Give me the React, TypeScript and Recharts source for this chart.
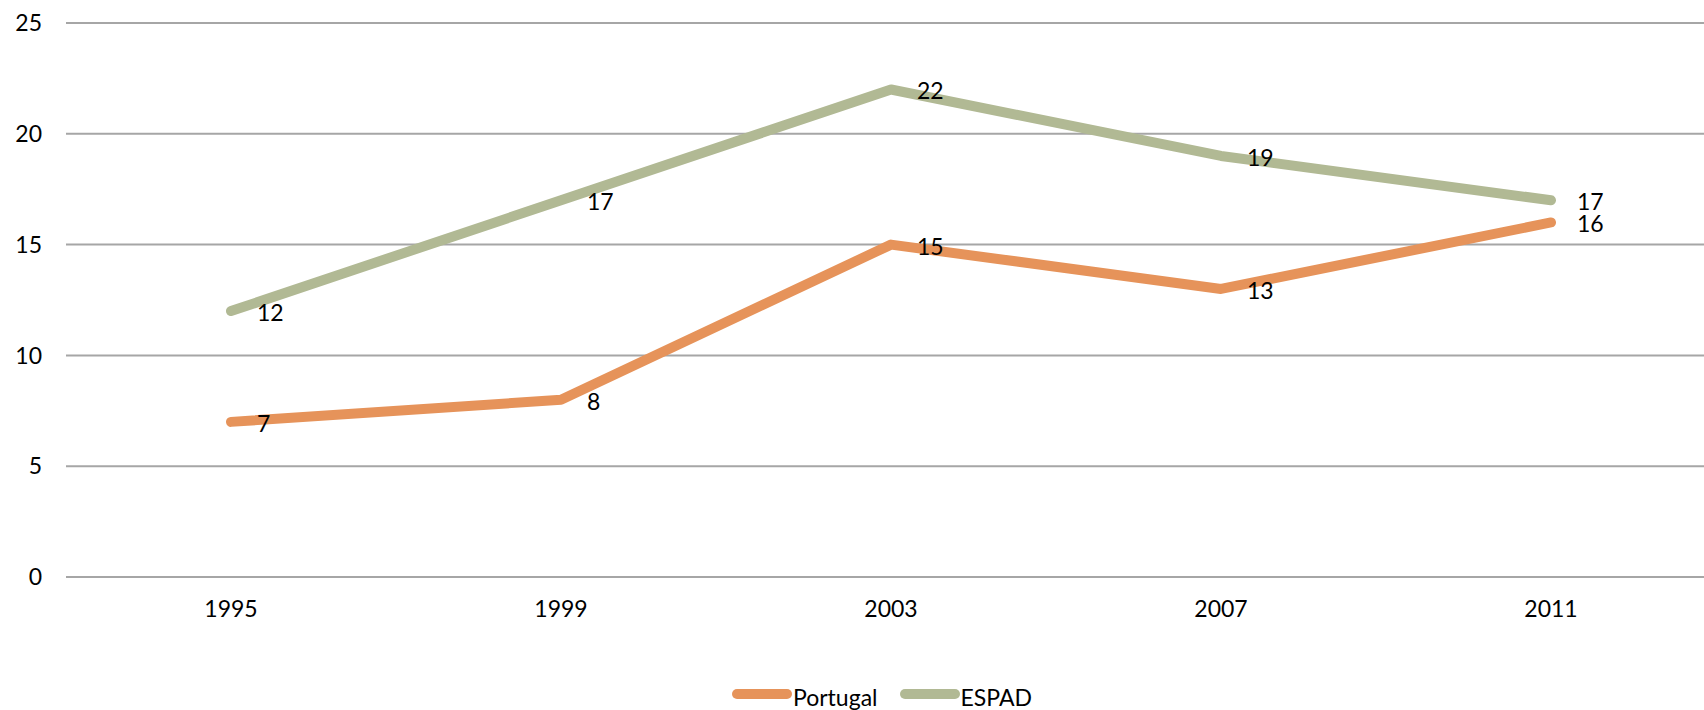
import { LineChart, Line, XAxis, YAxis, CartesianGrid, Legend, LabelList } from 'recharts';

const years = ['1995', '1999', '2003', '2007', '2011'];
const portugal = [7, 8, 15, 13, 16];
const espad = [12, 17, 22, 19, 17];
const yTicks = [0, 5, 10, 15, 20, 25];

const ORANGE = '#E6935A';
const GREEN = '#B1B994';
const FONT = 'Lato, "Open Sans", sans-serif';

const data = years.map((y, i) => ({ year: y, Portugal: portugal[i], ESPAD: espad[i] }));

function PointLabel(props: any) {
  const { x, y, value } = props;
  return (
    <text x={x + 26} y={y + 1} dominantBaseline="central" textAnchor="start"
      fill="#000" fontSize={23} fontFamily={FONT}>
      {value}
    </text>
  );
}

function LegendContent() {
  const items = [
    { name: 'Portugal', color: ORANGE },
    { name: 'ESPAD', color: GREEN },
  ];
  return (
    <div style={{ display: 'flex', alignItems: 'center', gap: '22px', fontFamily: FONT, fontSize: '23px', lineHeight: '22px', color: '#000' }}>
      {items.map(it => (
        <div key={it.name} style={{ display: 'flex', alignItems: 'center' }}>
          <div style={{ width: 60, height: 10, borderRadius: 5, background: it.color, marginTop: -6, marginRight: 1 }} />
          <span>{it.name}</span>
        </div>
      ))}
    </div>
  );
}

export default function App() {
  return (
    <div style={{ position: 'fixed', left: 0, top: 0, width: 1704, height: 710, overflow: 'hidden', background: '#fff' }}>
      <LineChart width={1720} height={710} data={data} margin={{ top: 23, right: 4, left: 0, bottom: 103 }}>
        <CartesianGrid vertical={false} stroke="#A6A6A6" strokeWidth={2} />
        <XAxis dataKey="year" axisLine={false} tickLine={false} tickSize={0} tickMargin={24} height={30}
          padding={{ left: 165, right: 165 }}
          tick={{ fill: '#000', fontSize: 23, fontFamily: FONT }} />
        <YAxis domain={[0, 25]} ticks={yTicks} axisLine={false} tickLine={false} tickSize={0} tickMargin={24} width={66}
          tick={{ fill: '#000', fontSize: 23, fontFamily: FONT }} />
        <Legend layout="horizontal" verticalAlign="middle" align="center" content={<LegendContent />}
          wrapperStyle={{ top: 686, left: 732, width: 'auto' }} />
        <Line type="linear" dataKey="Portugal" stroke={ORANGE} strokeWidth={10} strokeLinecap="round" strokeLinejoin="round"
          dot={false} activeDot={false} isAnimationActive={false}>
          <LabelList dataKey="Portugal" content={<PointLabel />} />
        </Line>
        <Line type="linear" dataKey="ESPAD" stroke={GREEN} strokeWidth={10} strokeLinecap="round" strokeLinejoin="round"
          dot={false} activeDot={false} isAnimationActive={false}>
          <LabelList dataKey="ESPAD" content={<PointLabel />} />
        </Line>
      </LineChart>
    </div>
  );
}
